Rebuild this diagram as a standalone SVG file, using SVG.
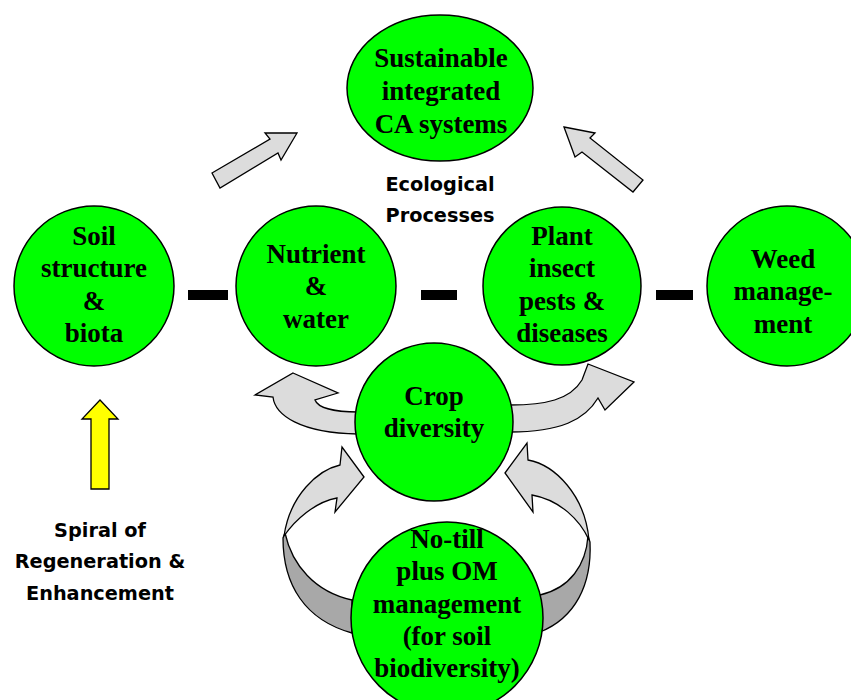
<svg xmlns="http://www.w3.org/2000/svg" width="851" height="700" viewBox="0 0 851 700">
<style>
.node{fill:#00ff00;stroke:#000;stroke-width:1.5}
.t{font-family:"Liberation Serif","Times New Roman",serif;font-weight:bold;font-size:27px;text-anchor:middle;fill:#000}
.s{font-family:"DejaVu Sans",Verdana,sans-serif;font-weight:bold;font-size:19.3px;text-anchor:middle;fill:#000}
.ga{fill:#dcdcdc;stroke:#000;stroke-width:1.3;stroke-linejoin:miter}
.gd{fill:#a8a8a8;stroke:#000;stroke-width:1.3}
.dash{fill:#000}
</style>
<rect width="851" height="700" fill="#fff"/>
<g id="connectors">
<polygon class="ga" points="212,173 270,139 265,133 297,133 281,160 278,153 220,188"/>
<polygon class="ga" points="564,127 595,133 590,138 643,180 633,192 582,152 575,157"/>
<rect class="dash" x="188" y="290" width="40" height="10"/>
<rect class="dash" x="421" y="290" width="36" height="10"/>
<rect class="dash" x="656" y="290" width="37" height="10"/>
<path class="ga" d="M293,373 L338,393 L315,400 C318,408 335,412 358,412 L358,434 C300,433 275,415 273,397 L255,395 Z"/>
<path class="ga" d="M634,382 L605,410 L598,398 C585,420 560,432 510,432 L510,405 C545,405 570,400 582,380 L588,364 Z"/>
<path class="gd" d="M285,533 C292,565 315,592 352,600 L352,633 C305,620 283,585 283,538 Z"/>
<path class="ga" d="M364,477 L342,447 L340,465 C318,470 290,495 284,536 C295,520 315,502 337,498 L335,512 Z"/>
<path class="gd" d="M588,536 C586,565 570,588 540,595 L540,632 C575,618 592,585 590,542 Z"/>
<path class="ga" d="M505,473 L527,443 L528,460 C555,465 585,495 589,540 C580,520 560,500 532,495 L533,512 Z"/>
<polygon points="91,489 91,419 82,419 100,400 118,419 109,419 109,489" fill="#ffff00" stroke="#000" stroke-width="1.3"/>
</g>
<g id="n-top">
<ellipse class="node" cx="440" cy="88" rx="93" ry="73"/>
<text class="t" x="441" y="67">Sustainable</text>
<text class="t" x="441" y="100">integrated</text>
<text class="t" x="441" y="133">CA systems</text>
</g>
<g id="label-eco">
<text class="s" x="440" y="191">Ecological</text>
<text class="s" x="440" y="222">Processes</text>
</g>
<g id="n-soil">
<circle class="node" cx="94" cy="286" r="80"/>
<text class="t" x="94" y="245">Soil</text>
<text class="t" x="94" y="277">structure</text>
<text class="t" x="94" y="310">&amp;</text>
<text class="t" x="94" y="342">biota</text>
</g>
<g id="n-nutrient">
<circle class="node" cx="316" cy="286" r="80"/>
<text class="t" x="316" y="263">Nutrient</text>
<text class="t" x="316" y="295">&amp;</text>
<text class="t" x="316" y="328">water</text>
</g>
<g id="n-plant">
<circle class="node" cx="562" cy="286" r="79"/>
<text class="t" x="562" y="245">Plant</text>
<text class="t" x="562" y="277">insect</text>
<text class="t" x="562" y="310">pests &amp;</text>
<text class="t" x="562" y="342">diseases</text>
</g>
<g id="n-weed">
<circle class="node" cx="787" cy="286" r="80"/>
<text class="t" x="783" y="268">Weed</text>
<text class="t" x="783" y="300">manage-</text>
<text class="t" x="783" y="333">ment</text>
</g>
<g id="n-crop">
<circle class="node" cx="434" cy="422" r="79"/>
<text class="t" x="434" y="405">Crop</text>
<text class="t" x="434" y="437">diversity</text>
</g>
<g id="n-notill">
<circle class="node" cx="447" cy="618" r="96"/>
<text class="t" x="447" y="548">No-till</text>
<text class="t" x="447" y="580">plus OM</text>
<text class="t" x="447" y="613">management</text>
<text class="t" x="447" y="645">(for soil</text>
<text class="t" x="447" y="677">biodiversity)</text>
</g>
<g id="label-spiral">
<text class="s" x="100" y="537">Spiral of</text>
<text class="s" x="100" y="568">Regeneration &amp;</text>
<text class="s" x="100" y="600">Enhancement</text>
</g>
</svg>
